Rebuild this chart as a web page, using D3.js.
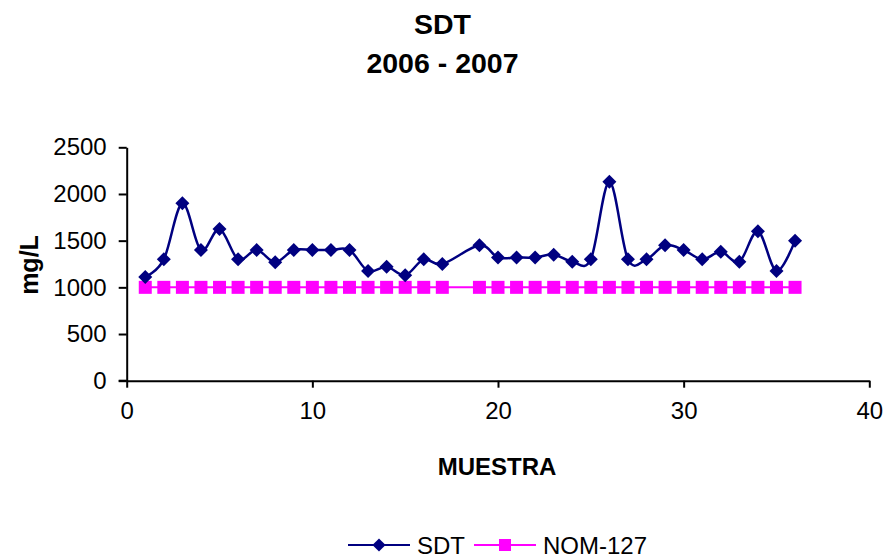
<!DOCTYPE html>
<html>
<head>
<meta charset="utf-8">
<script src="https://cdn.jsdelivr.net/npm/d3@7"></script>
<style>
  html, body { margin: 0; padding: 0; background: #fff; }
  svg { display: block; font-family: "Liberation Sans", Arial, sans-serif; }
</style>
</head>
<body>
<svg id="chart" width="886" height="560"></svg>
<script>
// ---- data ----
const titleLines = ["SDT", "2006 - 2007"];
const muestra = [1,2,3,4,5,6,7,8,9,10,11,12,13,14,15,16,17,19,20,21,22,23,24,25,26,27,28,29,30,31,32,33,34,35,36];
const sdt = [1110,1300,1900,1400,1625,1300,1400,1270,1400,1400,1400,1400,1175,1220,1130,1300,1250,1450,1320,1320,1320,1350,1275,1300,2130,1300,1300,1450,1400,1300,1380,1275,1600,1175,1500];
const nom127 = [1000,1000,1000,1000,1000,1000,1000,1000,1000,1000,1000,1000,1000,1000,1000,1000,1000,1000,1000,1000,1000,1000,1000,1000,1000,1000,1000,1000,1000,1000,1000,1000,1000,1000,1000];
const xTicks = [0,10,20,30,40];
const yTicks = [0,500,1000,1500,2000,2500];
const seriesNames = ["SDT", "NOM-127"];

// ---- layout ----
const svg = d3.select("#chart");
const x = d3.scaleLinear().domain([0, 40]).range([126.7, 869.3]);
const y = d3.scaleLinear().domain([0, 2500]).range([380.7, 147.3]);
const navy = "#000080", magenta = "#FF00FF";

// titles
svg.append("text").attr("x", 442.5).attr("y", 33.5).attr("text-anchor", "middle")
  .attr("font-weight", "bold").attr("font-size", 28.5).text(titleLines[0]);
svg.append("text").attr("x", 442.5).attr("y", 72.7).attr("text-anchor", "middle")
  .attr("font-weight", "bold").attr("font-size", 28.5).text(titleLines[1]);

// axes
const xAxis = svg.append("g").attr("transform", `translate(0,${y(0)})`)
  .call(d3.axisBottom(x).tickValues(xTicks).tickFormat(d3.format("d")).tickSize(7).tickPadding(14).tickSizeOuter(0));
const yAxis = svg.append("g").attr("transform", `translate(${x(0)},0)`)
  .call(d3.axisLeft(y).tickValues(yTicks).tickFormat(d3.format("d")).tickSize(8).tickPadding(12).tickSizeOuter(0));
[xAxis, yAxis].forEach(g => {
  g.select(".domain").attr("stroke", "#000").attr("stroke-width", 2);
  g.selectAll(".tick line").attr("stroke", "#000").attr("stroke-width", 2);
  g.selectAll(".tick text").attr("fill", "#000").attr("font-size", 24)
    .attr("font-family", "'Liberation Sans', Arial, sans-serif");
});
// extend x axis line to y-tick left end
svg.append("line").attr("x1", x(0) - 8).attr("x2", x(0)).attr("y1", y(0)).attr("y2", y(0))
  .attr("stroke", "#000").attr("stroke-width", 2);

// axis titles
svg.append("text").attr("x", 497).attr("y", 475).attr("text-anchor", "middle")
  .attr("font-weight", "bold").attr("font-size", 24).text("MUESTRA");
svg.append("text").attr("transform", `translate(38,265) rotate(-90)`).attr("text-anchor", "middle")
  .attr("font-weight", "bold").attr("font-size", 25).text("mg/L");

// series
const sdtData = muestra.map((m, i) => ({ x: m, y: sdt[i] }));
const nomData = muestra.map((m, i) => ({ x: m, y: nom127[i] }));

const lineSmooth = d3.line().x(d => x(d.x)).y(d => y(d.y)).curve(d3.curveCardinal.tension(0));
const lineStraight = d3.line().x(d => x(d.x)).y(d => y(d.y));

svg.append("path").datum(nomData).attr("d", lineStraight)
  .attr("fill", "none").attr("stroke", magenta).attr("stroke-width", 2);
svg.selectAll(".sq").data(nomData).enter().append("rect")
  .attr("x", d => x(d.x) - 6.5).attr("y", d => y(d.y) - 6.5)
  .attr("width", 13).attr("height", 13).attr("fill", magenta);

svg.append("path").datum(sdtData).attr("d", lineSmooth)
  .attr("fill", "none").attr("stroke", navy).attr("stroke-width", 2.5);
const diamond = d3.symbol().type(d3.symbolDiamond2).size(125);
svg.selectAll(".dm").data(sdtData).enter().append("path")
  .attr("d", diamond).attr("transform", d => `translate(${x(d.x)},${y(d.y)})`)
  .attr("fill", navy);

// legend
const lg = svg.append("g");
lg.append("line").attr("x1", 348).attr("x2", 410).attr("y1", 545).attr("y2", 545)
  .attr("stroke", navy).attr("stroke-width", 2);
lg.append("path").attr("d", d3.symbol().type(d3.symbolDiamond2).size(110))
  .attr("transform", "translate(379,545)").attr("fill", navy);
lg.append("text").attr("x", 417).attr("y", 553.5).attr("font-size", 24).text(seriesNames[0]);
lg.append("line").attr("x1", 474).attr("x2", 536).attr("y1", 545).attr("y2", 545)
  .attr("stroke", magenta).attr("stroke-width", 2);
lg.append("rect").attr("x", 505 - 6).attr("y", 545 - 6).attr("width", 12).attr("height", 12)
  .attr("fill", magenta);
lg.append("text").attr("x", 543).attr("y", 553.5).attr("font-size", 24).text(seriesNames[1]);
</script>
</body>
</html>
